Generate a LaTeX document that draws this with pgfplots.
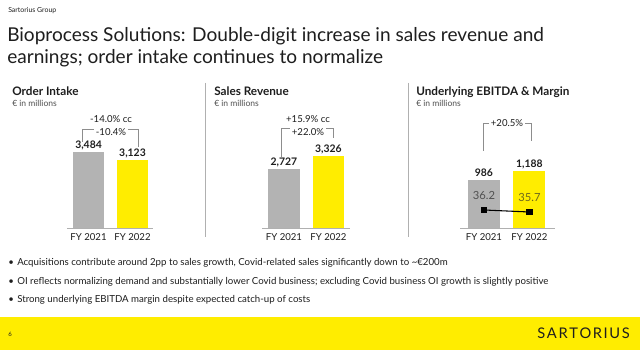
\documentclass[border=0pt]{standalone}
\usepackage{pgfplots}
\pgfplotsset{compat=1.18}
\usepackage{fontspec}
\setmainfont{Lato}
\definecolor{sgray}{HTML}{B3B3B3}
\definecolor{syellow}{HTML}{FFED00}
\definecolor{txt}{HTML}{1E1E1E}
\definecolor{sub}{HTML}{505050}
\definecolor{sepc}{HTML}{B0B0B0}
\newcommand{\fs}[1]{\fontsize{#1}{#1}\selectfont}
\pgfplotsset{
  panel/.style={
    scale only axis, clip=false, enlargelimits=false,
    ybar, ymin=0,
    axis x line=bottom, axis y line=none,
    x axis line style={-, draw=sepc, line width=0.6pt},
    xtick={0,1}, xticklabels={FY 2021,FY 2022},
    major tick length=0pt,
    xticklabel style={font=\fs{7.2}, text=txt, yshift=-0.5pt},
    bar width=23.5pt,
    nodes near coords,
    every node near coord/.append style={font=\bfseries\fs{7.8}, text=txt, anchor=base, inner sep=0pt, yshift=2.6pt},
    /pgf/number format/.cd, 1000 sep={,}, assume math mode=true,
  },
}
\begin{document}
\begin{tikzpicture}
\begin{scope}[x=0.75pt,y=0.75pt]
\fill[white] (0,0) rectangle (640,350);
\fill[syellow] (0,0) rectangle (640,33);
% header
\node[anchor=base west, inner sep=0pt, font=\fs{5.2}, text=txt] at (8,337) {Sartorius Group};
\node[anchor=base west, inner sep=0pt, font=\fs{14.3}, text=txt] at (7,308) {Bioprocess Solutions: Double-digit increase in sales revenue and};
\node[anchor=base west, inner sep=0pt, font=\fs{14.3}, text=txt] at (7,286) {earnings; order intake continues to normalize};
% separators
\draw[sepc, line width=0.6pt] (205,267) -- (205,113);
\draw[sepc, line width=0.6pt] (408,267) -- (408,113);
% panel titles
\node[anchor=base west, inner sep=0pt, font=\bfseries\fs{8.8}, text=txt] at (12,254) {Order Intake};
\node[anchor=base west, inner sep=0pt, font=\fs{6.4}, text=sub] at (12,243) {€ in millions};
\node[anchor=base west, inner sep=0pt, font=\bfseries\fs{8.8}, text=txt] at (214,254) {Sales Revenue};
\node[anchor=base west, inner sep=0pt, font=\fs{6.4}, text=sub] at (214,243) {€ in millions};
\node[anchor=base west, inner sep=0pt, font=\bfseries\fs{8.8}, text=txt] at (416,254) {Underlying EBITDA \& Margin};
\node[anchor=base west, inner sep=0pt, font=\fs{6.4}, text=sub] at (416,243) {€ in millions};
\end{scope}

% Panel 1
\begin{axis}[panel, at={(50.25pt,91.5pt)}, anchor=south west, width=64.5pt, height=65.1pt,
  xmin=-0.49, xmax=1.466, ymax=4000]
\addplot[fill=sgray, draw=none, bar shift=0pt] coordinates {(0,3484)};
\addplot[fill=syellow, draw=none, bar shift=0pt] coordinates {(1,3123)};
\end{axis}
% Panel 2
\begin{axis}[panel, at={(196.5pt,91.5pt)}, anchor=south west, width=66pt, height=65.1pt,
  xmin=-0.494, xmax=1.484, ymax=4000]
\addplot[fill=sgray, draw=none, bar shift=0pt] coordinates {(0,2727)};
\addplot[fill=syellow, draw=none, bar shift=0pt] coordinates {(1,3326)};
\end{axis}
% Panel 3
\begin{axis}[panel, at={(345pt,91.5pt)}, anchor=south west, width=71.25pt, height=58pt,
  xmin=-0.527, xmax=1.561, ymax=1600, bar width=24pt]
\addplot[fill=sgray, draw=none, bar shift=0pt] coordinates {(0,986)};
\addplot[fill=syellow, draw=none, bar shift=0pt] coordinates {(1,1188)};
\end{axis}
% margin line
\begin{axis}[at={(345pt,91.5pt)}, anchor=south west, scale only axis, width=71.25pt, height=58pt,
  xmin=-0.527, xmax=1.561, ymin=31.7, ymax=51.03, hide axis, clip=false,
  /pgf/number format/.cd, fixed, precision=1, fixed zerofill, assume math mode=true]
\addplot[black, line width=0.8pt, mark=square*, mark size=2.2pt] coordinates {(0,36.2) (1,35.7)};
\addplot[draw=none, nodes near coords, every node near coord/.append style={font=\fs{8.4}, text=sub, anchor=base, inner sep=0pt, yshift=8.2pt}] coordinates {(0,36.2)};
\addplot[draw=none, nodes near coords, every node near coord/.append style={font=\fs{8.4}, text={rgb,255:red,110;green,104;blue,30}, anchor=base, inner sep=0pt, yshift=8.2pt}] coordinates {(1,35.7)};
\end{axis}

\begin{scope}[x=0.75pt,y=0.75pt]
% brackets
\draw[sepc!80!black, line width=0.5pt] (82,208) -- (82,221) -- (138,221) -- (138,203);
\node[font=\fs{7.2}, text=txt, inner sep=0pt] at (111,231) {-14.0\% cc};
\node[font=\fs{7.2}, text=txt, fill=white, inner sep=1.2pt] at (111,218) {-10.4\%};
\draw[sepc!80!black, line width=0.5pt] (281,193) -- (281,222) -- (333,222) -- (333,212);
\node[font=\fs{7.2}, text=txt, inner sep=0pt] at (308,231) {+15.9\% cc};
\node[font=\fs{7.2}, text=txt, fill=white, inner sep=1.2pt] at (308,218) {+22.0\%};
\draw[sepc!80!black, line width=0.5pt] (483,199) -- (483,227) -- (531,227) -- (531,209);
\node[font=\fs{7.2}, text=txt, fill=white, inner sep=1.2pt] at (507,227) {+20.5\%};

% bullets
\node[anchor=base west, inner sep=0pt, font=\fs{7.25}, text=txt] at (8,84) {•};
\node[anchor=base west, inner sep=0pt, font=\fs{7.25}, text=txt] at (17,84) {Acquisitions contribute around 2pp to sales growth, Covid-related sales significantly down to \textasciitilde€200m};
\node[anchor=base west, inner sep=0pt, font=\fs{7.25}, text=txt] at (8,65) {•};
\node[anchor=base west, inner sep=0pt, font=\fs{7.25}, text=txt] at (17,65) {OI reflects normalizing demand and substantially lower Covid business; excluding Covid business OI growth is slightly positive};
\node[anchor=base west, inner sep=0pt, font=\fs{7.25}, text=txt] at (8,47) {•};
\node[anchor=base west, inner sep=0pt, font=\fs{7.25}, text=txt] at (17,47) {Strong underlying EBITDA margin despite expected catch-up of costs};
% footer
\node[anchor=base west, inner sep=0pt, font=\fs{4.5}, text=txt] at (8,13) {6};
\node[anchor=base east, inner sep=0pt, font=\fs{11}, text=txt] at (630,11) {S\kern1.2pt A\kern1.2pt R\kern1.2pt T\kern1.2pt O\kern1.2pt R\kern1.2pt I\kern1.2pt U\kern1.2pt S};
\end{scope}
\end{tikzpicture}
\end{document}
